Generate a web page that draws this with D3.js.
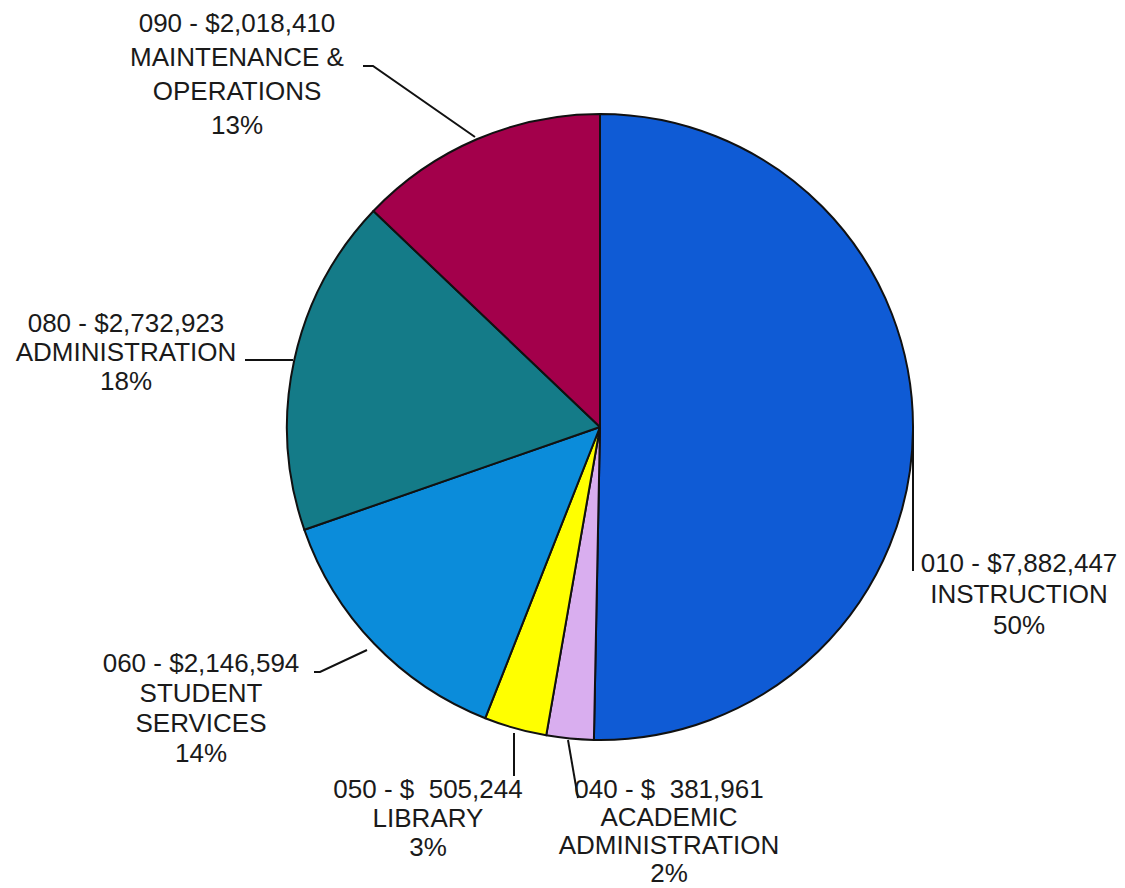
<!DOCTYPE html>
<html>
<head>
<meta charset="utf-8">
<script src="https://cdn.jsdelivr.net/npm/d3@7"></script>
<style>
  html, body { margin: 0; padding: 0; background: #ffffff; }
  svg { display: block; }
  text { font-family: Arial, "Liberation Sans", sans-serif; font-size: 26px; fill: #1a1a1a; white-space: pre; }
</style>
</head>
<body>
<svg id="chart" width="1125" height="888"></svg>
<script>
// Budget by function code, drawn clockwise from 12 o'clock
const codes = ["010", "040", "050", "060", "080", "090"];
const names = ["INSTRUCTION", "ACADEMIC|ADMINISTRATION", "LIBRARY", "STUDENT|SERVICES", "ADMINISTRATION", "MAINTENANCE &|OPERATIONS"];
const amounts = [7882447, 381961, 505244, 2146594, 2732923, 2018410];
const amountLabels = ["$7,882,447", "$  381,961", "$  505,244", "$2,146,594", "$2,732,923", "$2,018,410"];
const percentLabels = ["50%", "2%", "3%", "14%", "18%", "13%"];
const colors = ["#0f5bd5", "#d9aeef", "#ffff00", "#0b8cda", "#147b88", "#a3004b"];

// Label placement: text centre, first baseline, line spacing, and leader path
const labelX = [1019, 669, 428, 201, 126, 237];
const labelY = [572, 798, 798, 672, 332, 32];
const lineGap = [31, 28, 29, 30, 29, 34];
const leaders = [
  [[913, 430], [913, 571]],
  [[568, 740], [578, 798]],
  [[514, 733], [514, 776]],
  [[367, 650], [320, 672], [314, 672]],
  [[293, 360], [245, 360]],
  [[475, 137], [373, 66], [363, 66]]
];

const svg = d3.select("#chart");
const cx = 600, cy = 427, r = 313;

const pie = d3.pie().sort(null).value(d => d);
const arc = d3.arc().innerRadius(0).outerRadius(r);
const arcs = pie(amounts);

const g = svg.append("g").attr("transform", `translate(${cx},${cy})`);
g.selectAll("path.slice")
  .data(arcs)
  .join("path")
  .attr("class", "slice")
  .attr("d", arc)
  .attr("fill", (d, i) => colors[i])
  .attr("stroke", "#111")
  .attr("stroke-width", 2)
  .attr("stroke-linejoin", "round");

// leader lines
const line = d3.line();
svg.selectAll("path.leader")
  .data(leaders)
  .join("path")
  .attr("class", "leader")
  .attr("d", d => line(d))
  .attr("fill", "none")
  .attr("stroke", "#111")
  .attr("stroke-width", 2);

// labels
codes.forEach((code, i) => {
  const lines = [`${code} - ${amountLabels[i]}`, ...names[i].split("|"), percentLabels[i]];
  const t = svg.append("text")
    .attr("text-anchor", "middle")
    .attr("x", labelX[i])
    .attr("y", labelY[i]);
  lines.forEach((s, k) => {
    t.append("tspan")
      .attr("x", labelX[i])
      .attr("y", labelY[i] + k * lineGap[i])
      .text(s);
  });
});
</script>
</body>
</html>
